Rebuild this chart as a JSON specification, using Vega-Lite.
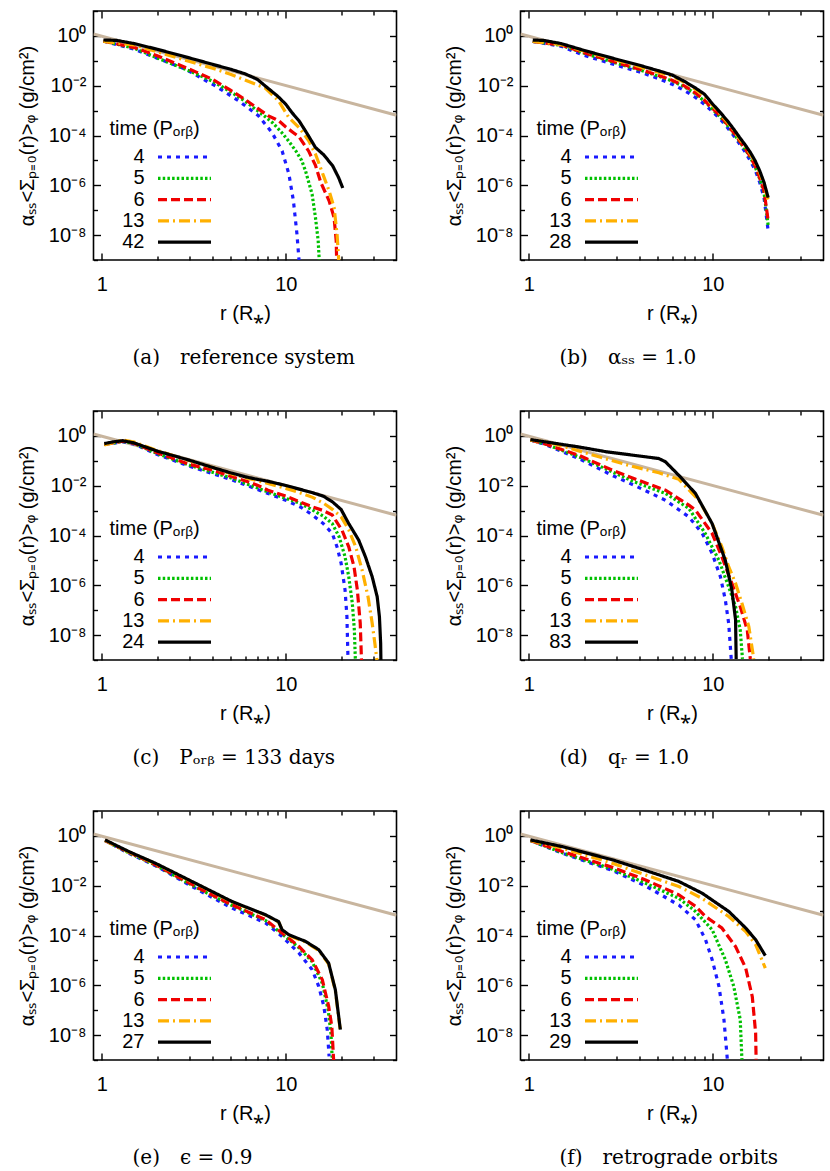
{
"$schema":"https://vega.github.io/schema/vega-lite/v6.json",
"padding":{"left":16.5,"top":0,"right":0,"bottom":0},
"bounds":"flush",
"columns":2,
"spacing":{"row":151,"column":124},
"data":{"values":[
{"p":"a","t":"4","r":1.02,"s":0.62},{"p":"a","t":"4","r":1.5,"s":0.29},{"p":"a","t":"4","r":2,"s":0.126},{"p":"a","t":"4","r":2.85,"s":0.046},{"p":"a","t":"4","r":4.14,"s":0.0098},{"p":"a","t":"4","r":5.55,"s":0.00245},{"p":"a","t":"4","r":7.1,"s":0.00062},{"p":"a","t":"4","r":8.42,"s":0.00013},{"p":"a","t":"4","r":9.55,"s":2.4e-5},{"p":"a","t":"4","r":10.4,"s":2.8e-6},{"p":"a","t":"4","r":11.0,"s":2.4e-7},{"p":"a","t":"4","r":11.5,"s":1.1e-8},{"p":"a","t":"4","r":11.8,"s":1e-9},
{"p":"a","t":"5","r":1.02,"s":0.62},{"p":"a","t":"5","r":1.5,"s":0.32},{"p":"a","t":"5","r":2,"s":0.13},{"p":"a","t":"5","r":3,"s":0.039},{"p":"a","t":"5","r":4,"s":0.015},{"p":"a","t":"5","r":5.11,"s":0.0052},{"p":"a","t":"5","r":6,"s":0.0024},{"p":"a","t":"5","r":7,"s":0.001},{"p":"a","t":"5","r":7.76,"s":0.00056},{"p":"a","t":"5","r":8.5,"s":0.00032},{"p":"a","t":"5","r":9.55,"s":0.000126},{"p":"a","t":"5","r":10.3,"s":6.3e-5},{"p":"a","t":"5","r":11.3,"s":2.5e-5},{"p":"a","t":"5","r":12.2,"s":1e-5},{"p":"a","t":"5","r":12.8,"s":3.8e-6},{"p":"a","t":"5","r":13.9,"s":4.4e-7},{"p":"a","t":"5","r":14.5,"s":5.1e-8},{"p":"a","t":"5","r":15.0,"s":5.9e-9},{"p":"a","t":"5","r":15.2,"s":1e-9},
{"p":"a","t":"6","r":1.02,"s":0.62},{"p":"a","t":"6","r":1.5,"s":0.34},{"p":"a","t":"6","r":2,"s":0.16},{"p":"a","t":"6","r":3,"s":0.046},{"p":"a","t":"6","r":4,"s":0.018},{"p":"a","t":"6","r":5,"s":0.0066},{"p":"a","t":"6","r":6,"s":0.0028},{"p":"a","t":"6","r":7,"s":0.00126},{"p":"a","t":"6","r":8,"s":0.00063},{"p":"a","t":"6","r":8.8,"s":0.00045},{"p":"a","t":"6","r":9.2,"s":0.00038},{"p":"a","t":"6","r":10,"s":0.00022},{"p":"a","t":"6","r":11,"s":0.00013},{"p":"a","t":"6","r":11.8,"s":8.9e-5},{"p":"a","t":"6","r":13.3,"s":2.4e-5},{"p":"a","t":"6","r":14.5,"s":6.3e-6},{"p":"a","t":"6","r":15.5,"s":1.3e-6},{"p":"a","t":"6","r":17.2,"s":2.4e-7},{"p":"a","t":"6","r":18.3,"s":5.1e-8},{"p":"a","t":"6","r":18.8,"s":5.9e-9},{"p":"a","t":"6","r":18.9,"s":1e-9},
{"p":"a","t":"13","r":1.02,"s":0.6},{"p":"a","t":"13","r":1.5,"s":0.43},{"p":"a","t":"13","r":2,"s":0.23},{"p":"a","t":"13","r":3,"s":0.093},{"p":"a","t":"13","r":4,"s":0.05},{"p":"a","t":"13","r":5,"s":0.029},{"p":"a","t":"13","r":6,"s":0.017},{"p":"a","t":"13","r":7,"s":0.0107},{"p":"a","t":"13","r":7.76,"s":0.0079},{"p":"a","t":"13","r":9.14,"s":0.00245},{"p":"a","t":"13","r":10.4,"s":0.00052},{"p":"a","t":"13","r":11.8,"s":0.00021},{"p":"a","t":"13","r":13.3,"s":6.3e-5},{"p":"a","t":"13","r":14.5,"s":1.8e-5},{"p":"a","t":"13","r":16,"s":2.5e-6},{"p":"a","t":"13","r":17.2,"s":6e-7},{"p":"a","t":"13","r":18.3,"s":1.3e-7},{"p":"a","t":"13","r":19.0,"s":1.1e-8},{"p":"a","t":"13","r":19.4,"s":1e-9},
{"p":"a","t":"42","r":1.02,"s":0.685},{"p":"a","t":"42","r":1.2,"s":0.66},{"p":"a","t":"42","r":1.5,"s":0.49},{"p":"a","t":"42","r":2,"s":0.29},{"p":"a","t":"42","r":3,"s":0.13},{"p":"a","t":"42","r":4,"s":0.072},{"p":"a","t":"42","r":5,"s":0.046},{"p":"a","t":"42","r":6,"s":0.03},{"p":"a","t":"42","r":7,"s":0.018},{"p":"a","t":"42","r":8,"s":0.0079},{"p":"a","t":"42","r":9,"s":0.0039},{"p":"a","t":"42","r":10,"s":0.0018},{"p":"a","t":"42","r":10.8,"s":0.00083},{"p":"a","t":"42","r":11.8,"s":0.00039},{"p":"a","t":"42","r":13,"s":0.000126},{"p":"a","t":"42","r":14.5,"s":3.3e-5},{"p":"a","t":"42","r":16.1,"s":1.66e-5},{"p":"a","t":"42","r":18,"s":6e-6},{"p":"a","t":"42","r":19.4,"s":2e-6},{"p":"a","t":"42","r":20.4,"s":7.8e-7},

{"p":"b","t":"4","r":1.05,"s":0.6},{"p":"b","t":"4","r":1.5,"s":0.38},{"p":"b","t":"4","r":2,"s":0.166},{"p":"b","t":"4","r":3,"s":0.066},{"p":"b","t":"4","r":4,"s":0.0355},{"p":"b","t":"4","r":5,"s":0.02},{"p":"b","t":"4","r":6,"s":0.0115},{"p":"b","t":"4","r":7,"s":0.0065},{"p":"b","t":"4","r":8,"s":0.0035},{"p":"b","t":"4","r":9,"s":0.0018},{"p":"b","t":"4","r":10,"s":0.00089},{"p":"b","t":"4","r":11,"s":0.00045},{"p":"b","t":"4","r":12,"s":0.00021},{"p":"b","t":"4","r":13,"s":9.8e-5},{"p":"b","t":"4","r":14,"s":4.5e-5},{"p":"b","t":"4","r":15,"s":2.2e-5},{"p":"b","t":"4","r":16,"s":9.5e-6},{"p":"b","t":"4","r":17,"s":4.1e-6},{"p":"b","t":"4","r":18,"s":1.3e-6},{"p":"b","t":"4","r":19,"s":3.2e-7},{"p":"b","t":"4","r":20,"s":1.5e-8},
{"p":"b","t":"5","r":1.05,"s":0.6},{"p":"b","t":"5","r":1.5,"s":0.42},{"p":"b","t":"5","r":2,"s":0.2},{"p":"b","t":"5","r":3,"s":0.08},{"p":"b","t":"5","r":4,"s":0.043},{"p":"b","t":"5","r":5,"s":0.025},{"p":"b","t":"5","r":6,"s":0.0155},{"p":"b","t":"5","r":7,"s":0.0091},{"p":"b","t":"5","r":8,"s":0.0049},{"p":"b","t":"5","r":9,"s":0.0024},{"p":"b","t":"5","r":10,"s":0.0011},{"p":"b","t":"5","r":11,"s":0.00055},{"p":"b","t":"5","r":12,"s":0.00026},{"p":"b","t":"5","r":13,"s":0.00012},{"p":"b","t":"5","r":14,"s":5.5e-5},{"p":"b","t":"5","r":15,"s":2.8e-5},{"p":"b","t":"5","r":16,"s":1.3e-5},{"p":"b","t":"5","r":17,"s":5.5e-6},{"p":"b","t":"5","r":18,"s":1.8e-6},{"p":"b","t":"5","r":19,"s":5e-7},{"p":"b","t":"5","r":20,"s":2.5e-8},
{"p":"b","t":"6","r":1.05,"s":0.6},{"p":"b","t":"6","r":1.5,"s":0.43},{"p":"b","t":"6","r":2,"s":0.21},{"p":"b","t":"6","r":3,"s":0.085},{"p":"b","t":"6","r":4,"s":0.046},{"p":"b","t":"6","r":5,"s":0.027},{"p":"b","t":"6","r":6,"s":0.0166},{"p":"b","t":"6","r":7,"s":0.0098},{"p":"b","t":"6","r":8,"s":0.0053},{"p":"b","t":"6","r":9,"s":0.0026},{"p":"b","t":"6","r":10,"s":0.0012},{"p":"b","t":"6","r":11,"s":0.00061},{"p":"b","t":"6","r":12,"s":0.00028},{"p":"b","t":"6","r":13,"s":0.00013},{"p":"b","t":"6","r":14,"s":6e-5},{"p":"b","t":"6","r":15,"s":3e-5},{"p":"b","t":"6","r":16,"s":1.4e-5},{"p":"b","t":"6","r":17,"s":6e-6},{"p":"b","t":"6","r":18,"s":2e-6},{"p":"b","t":"6","r":19,"s":6e-7},{"p":"b","t":"6","r":20,"s":3.8e-8},
{"p":"b","t":"13","r":1.05,"s":0.6},{"p":"b","t":"13","r":1.5,"s":0.45},{"p":"b","t":"13","r":2,"s":0.245},{"p":"b","t":"13","r":3,"s":0.105},{"p":"b","t":"13","r":4,"s":0.058},{"p":"b","t":"13","r":5,"s":0.036},{"p":"b","t":"13","r":6,"s":0.024},{"p":"b","t":"13","r":7,"s":0.0138},{"p":"b","t":"13","r":8,"s":0.0074},{"p":"b","t":"13","r":9,"s":0.0039},{"p":"b","t":"13","r":10,"s":0.0016},{"p":"b","t":"13","r":11,"s":0.00072},{"p":"b","t":"13","r":12,"s":0.00034},{"p":"b","t":"13","r":13,"s":0.00016},{"p":"b","t":"13","r":14,"s":7.2e-5},{"p":"b","t":"13","r":15,"s":3.7e-5},{"p":"b","t":"13","r":16,"s":1.8e-5},{"p":"b","t":"13","r":17,"s":8.3e-6},{"p":"b","t":"13","r":18,"s":3.2e-6},{"p":"b","t":"13","r":19,"s":1.1e-6},{"p":"b","t":"13","r":20,"s":2.5e-7},
{"p":"b","t":"28","r":1.05,"s":0.68},{"p":"b","t":"28","r":1.2,"s":0.66},{"p":"b","t":"28","r":1.5,"s":0.49},{"p":"b","t":"28","r":2,"s":0.26},{"p":"b","t":"28","r":3,"s":0.115},{"p":"b","t":"28","r":4,"s":0.066},{"p":"b","t":"28","r":5,"s":0.041},{"p":"b","t":"28","r":6,"s":0.027},{"p":"b","t":"28","r":7,"s":0.015},{"p":"b","t":"28","r":8,"s":0.0083},{"p":"b","t":"28","r":9,"s":0.0046},{"p":"b","t":"28","r":10,"s":0.0018},{"p":"b","t":"28","r":11,"s":0.00083},{"p":"b","t":"28","r":12,"s":0.00039},{"p":"b","t":"28","r":13,"s":0.00018},{"p":"b","t":"28","r":14,"s":8.3e-5},{"p":"b","t":"28","r":15,"s":4.2e-5},{"p":"b","t":"28","r":16,"s":2.1e-5},{"p":"b","t":"28","r":17,"s":9.6e-6},{"p":"b","t":"28","r":18,"s":3.8e-6},{"p":"b","t":"28","r":19,"s":1.3e-6},{"p":"b","t":"28","r":20,"s":3.2e-7},

{"p":"c","t":"4","r":1.03,"s":0.45},{"p":"c","t":"4","r":1.3,"s":0.58},{"p":"c","t":"4","r":1.5,"s":0.47},{"p":"c","t":"4","r":2,"s":0.18},{"p":"c","t":"4","r":3,"s":0.06},{"p":"c","t":"4","r":5,"s":0.018},{"p":"c","t":"4","r":8,"s":0.0049},{"p":"c","t":"4","r":10,"s":0.0026},{"p":"c","t":"4","r":12,"s":0.0014},{"p":"c","t":"4","r":14,"s":0.00066},{"p":"c","t":"4","r":16,"s":0.0003},{"p":"c","t":"4","r":17.9,"s":0.00012},{"p":"c","t":"4","r":19,"s":3.5e-5},{"p":"c","t":"4","r":20,"s":7.6e-6},{"p":"c","t":"4","r":21,"s":6.5e-7},{"p":"c","t":"4","r":21.5,"s":5.5e-8},{"p":"c","t":"4","r":21.8,"s":1e-9},
{"p":"c","t":"5","r":1.03,"s":0.45},{"p":"c","t":"5","r":1.3,"s":0.6},{"p":"c","t":"5","r":1.5,"s":0.49},{"p":"c","t":"5","r":2,"s":0.195},{"p":"c","t":"5","r":3,"s":0.066},{"p":"c","t":"5","r":5,"s":0.021},{"p":"c","t":"5","r":8,"s":0.0056},{"p":"c","t":"5","r":10,"s":0.0031},{"p":"c","t":"5","r":12,"s":0.00195},{"p":"c","t":"5","r":14,"s":0.00105},{"p":"c","t":"5","r":16,"s":0.0006},{"p":"c","t":"5","r":17.9,"s":0.0003},{"p":"c","t":"5","r":19.5,"s":8.9e-5},{"p":"c","t":"5","r":21,"s":1.4e-5},{"p":"c","t":"5","r":22,"s":2.2e-6},{"p":"c","t":"5","r":23,"s":1.9e-7},{"p":"c","t":"5","r":23.6,"s":1.6e-8},{"p":"c","t":"5","r":23.9,"s":1e-9},
{"p":"c","t":"6","r":1.03,"s":0.45},{"p":"c","t":"6","r":1.3,"s":0.62},{"p":"c","t":"6","r":1.5,"s":0.5},{"p":"c","t":"6","r":2,"s":0.21},{"p":"c","t":"6","r":3,"s":0.072},{"p":"c","t":"6","r":4,"s":0.042},{"p":"c","t":"6","r":5,"s":0.024},{"p":"c","t":"6","r":6,"s":0.0158},{"p":"c","t":"6","r":7,"s":0.0105},{"p":"c","t":"6","r":8,"s":0.0066},{"p":"c","t":"6","r":10,"s":0.0038},{"p":"c","t":"6","r":12,"s":0.0022},{"p":"c","t":"6","r":14,"s":0.0014},{"p":"c","t":"6","r":16,"s":0.001},{"p":"c","t":"6","r":17.9,"s":0.00066},{"p":"c","t":"6","r":20.2,"s":0.000166},{"p":"c","t":"6","r":22,"s":3.5e-5},{"p":"c","t":"6","r":23.5,"s":5.6e-6},{"p":"c","t":"6","r":24.5,"s":6.5e-7},{"p":"c","t":"6","r":25.4,"s":3e-8},{"p":"c","t":"6","r":25.8,"s":1e-9},
{"p":"c","t":"13","r":1.03,"s":0.43},{"p":"c","t":"13","r":1.3,"s":0.68},{"p":"c","t":"13","r":1.5,"s":0.56},{"p":"c","t":"13","r":2,"s":0.26},{"p":"c","t":"13","r":3,"s":0.1},{"p":"c","t":"13","r":4,"s":0.054},{"p":"c","t":"13","r":5,"s":0.031},{"p":"c","t":"13","r":6,"s":0.021},{"p":"c","t":"13","r":7,"s":0.016},{"p":"c","t":"13","r":8,"s":0.0123},{"p":"c","t":"13","r":10,"s":0.0078},{"p":"c","t":"13","r":12,"s":0.0051},{"p":"c","t":"13","r":14,"s":0.0034},{"p":"c","t":"13","r":16,"s":0.002},{"p":"c","t":"13","r":18,"s":0.0011},{"p":"c","t":"13","r":20,"s":0.00056},{"p":"c","t":"13","r":22,"s":0.00017},{"p":"c","t":"13","r":24,"s":3.5e-5},{"p":"c","t":"13","r":26,"s":4.1e-6},{"p":"c","t":"13","r":28,"s":3.5e-7},{"p":"c","t":"13","r":29.5,"s":3e-8},{"p":"c","t":"13","r":30.5,"s":4.7e-9},{"p":"c","t":"13","r":31.3,"s":1e-9},
{"p":"c","t":"24","r":1.03,"s":0.49},{"p":"c","t":"24","r":1.15,"s":0.575},{"p":"c","t":"24","r":1.3,"s":0.64},{"p":"c","t":"24","r":1.5,"s":0.52},{"p":"c","t":"24","r":2,"s":0.245},{"p":"c","t":"24","r":3,"s":0.105},{"p":"c","t":"24","r":4,"s":0.054},{"p":"c","t":"24","r":5,"s":0.033},{"p":"c","t":"24","r":6,"s":0.023},{"p":"c","t":"24","r":7,"s":0.018},{"p":"c","t":"24","r":8,"s":0.015},{"p":"c","t":"24","r":10,"s":0.0102},{"p":"c","t":"24","r":12,"s":0.0071},{"p":"c","t":"24","r":14,"s":0.0052},{"p":"c","t":"24","r":16,"s":0.0038},{"p":"c","t":"24","r":18,"s":0.0022},{"p":"c","t":"24","r":20,"s":0.0011},{"p":"c","t":"24","r":22,"s":0.0003},{"p":"c","t":"24","r":24.9,"s":6.6e-5},{"p":"c","t":"24","r":27.1,"s":1.4e-5},{"p":"c","t":"24","r":29.5,"s":2.2e-6},{"p":"c","t":"24","r":31.4,"s":3.5e-7},{"p":"c","t":"24","r":32.3,"s":5.5e-8},{"p":"c","t":"24","r":32.8,"s":4.7e-9},{"p":"c","t":"24","r":32.9,"s":1e-9},

{"p":"d","t":"4","r":1.02,"s":0.68},{"p":"d","t":"4","r":1.23,"s":0.45},{"p":"d","t":"4","r":1.87,"s":0.123},{"p":"d","t":"4","r":2.84,"s":0.026},{"p":"d","t":"4","r":3.72,"s":0.0105},{"p":"d","t":"4","r":5.53,"s":0.0026},{"p":"d","t":"4","r":7.41,"s":0.00056},{"p":"d","t":"4","r":8.77,"s":0.00012},{"p":"d","t":"4","r":9.92,"s":1.9e-5},{"p":"d","t":"4","r":11.0,"s":2.2e-6},{"p":"d","t":"4","r":11.7,"s":2.6e-7},{"p":"d","t":"4","r":12.2,"s":2.95e-8},{"p":"d","t":"4","r":12.6,"s":1.1e-9},
{"p":"d","t":"5","r":1.02,"s":0.68},{"p":"d","t":"5","r":1.23,"s":0.47},{"p":"d","t":"5","r":1.87,"s":0.145},{"p":"d","t":"5","r":2.84,"s":0.036},{"p":"d","t":"5","r":3.72,"s":0.0145},{"p":"d","t":"5","r":5.53,"s":0.0049},{"p":"d","t":"5","r":7.41,"s":0.00123},{"p":"d","t":"5","r":9.1,"s":0.00012},{"p":"d","t":"5","r":10.8,"s":1e-5},{"p":"d","t":"5","r":12.2,"s":8.7e-7},{"p":"d","t":"5","r":13.3,"s":1.4e-7},{"p":"d","t":"5","r":14.1,"s":1.6e-8},{"p":"d","t":"5","r":14.5,"s":1.1e-9},
{"p":"d","t":"6","r":1.02,"s":0.68},{"p":"d","t":"6","r":1.23,"s":0.47},{"p":"d","t":"6","r":1.87,"s":0.166},{"p":"d","t":"6","r":2.84,"s":0.042},{"p":"d","t":"6","r":3.72,"s":0.0195},{"p":"d","t":"6","r":5.53,"s":0.0066},{"p":"d","t":"6","r":7.41,"s":0.00166},{"p":"d","t":"6","r":8.05,"s":0.00105},{"p":"d","t":"6","r":9.92,"s":0.00012},{"p":"d","t":"6","r":11.2,"s":1.4e-5},{"p":"d","t":"6","r":12.7,"s":1.2e-6},{"p":"d","t":"6","r":14.1,"s":1.4e-7},{"p":"d","t":"6","r":15.4,"s":1.6e-8},{"p":"d","t":"6","r":16.0,"s":1.1e-9},
{"p":"d","t":"13","r":1.02,"s":0.68},{"p":"d","t":"13","r":1.23,"s":0.58},{"p":"d","t":"13","r":1.52,"s":0.39},{"p":"d","t":"13","r":2.4,"s":0.145},{"p":"d","t":"13","r":3.64,"s":0.06},{"p":"d","t":"13","r":5.09,"s":0.033},{"p":"d","t":"13","r":6.54,"s":0.018},{"p":"d","t":"13","r":8.4,"s":0.0026},{"p":"d","t":"13","r":9.92,"s":0.0003},{"p":"d","t":"13","r":11.2,"s":3.5e-5},{"p":"d","t":"13","r":12.2,"s":5.6e-6},{"p":"d","t":"13","r":13.3,"s":1.2e-6},{"p":"d","t":"13","r":14.4,"s":1.9e-7},{"p":"d","t":"13","r":15.7,"s":2.2e-8},{"p":"d","t":"13","r":16.7,"s":1.1e-9},
{"p":"d","t":"83","r":1.02,"s":0.71},{"p":"d","t":"83","r":1.23,"s":0.575},{"p":"d","t":"83","r":1.87,"s":0.36},{"p":"d","t":"83","r":2.64,"s":0.23},{"p":"d","t":"83","r":4.31,"s":0.145},{"p":"d","t":"83","r":5.09,"s":0.123},{"p":"d","t":"83","r":5.53,"s":0.091},{"p":"d","t":"83","r":6.54,"s":0.026},{"p":"d","t":"83","r":8.05,"s":0.0049},{"p":"d","t":"83","r":9.92,"s":0.0003},{"p":"d","t":"83","r":11.7,"s":1e-5},{"p":"d","t":"83","r":12.7,"s":6.5e-7},{"p":"d","t":"83","r":13.3,"s":4.1e-8},{"p":"d","t":"83","r":13.4,"s":1.1e-9},

{"p":"e","t":"4","r":1.04,"s":0.65},{"p":"e","t":"4","r":1.4,"s":0.2},{"p":"e","t":"4","r":1.96,"s":0.063},{"p":"e","t":"4","r":3.37,"s":0.0065},{"p":"e","t":"4","r":5.11,"s":0.00126},{"p":"e","t":"4","r":7.76,"s":0.00032},{"p":"e","t":"4","r":9.55,"s":9.1e-5},{"p":"e","t":"4","r":11.8,"s":1.95e-5},{"p":"e","t":"4","r":13.9,"s":4.3e-6},{"p":"e","t":"4","r":15.1,"s":9.1e-7},{"p":"e","t":"4","r":16.1,"s":1.45e-7},{"p":"e","t":"4","r":16.8,"s":1.66e-8},{"p":"e","t":"4","r":17.2,"s":1.4e-9},
{"p":"e","t":"5","r":1.04,"s":0.65},{"p":"e","t":"5","r":1.4,"s":0.21},{"p":"e","t":"5","r":1.96,"s":0.066},{"p":"e","t":"5","r":3.37,"s":0.0074},{"p":"e","t":"5","r":5.11,"s":0.0016},{"p":"e","t":"5","r":7.76,"s":0.0004},{"p":"e","t":"5","r":9.55,"s":0.000115},{"p":"e","t":"5","r":11.8,"s":3.2e-5},{"p":"e","t":"5","r":13.9,"s":9e-6},{"p":"e","t":"5","r":15.8,"s":1.2e-6},{"p":"e","t":"5","r":17.0,"s":1e-7},{"p":"e","t":"5","r":17.6,"s":1.2e-8},{"p":"e","t":"5","r":17.9,"s":1e-9},
{"p":"e","t":"6","r":1.04,"s":0.65},{"p":"e","t":"6","r":1.4,"s":0.22},{"p":"e","t":"6","r":1.96,"s":0.069},{"p":"e","t":"6","r":3.37,"s":0.0079},{"p":"e","t":"6","r":5.11,"s":0.0017},{"p":"e","t":"6","r":7.76,"s":0.00043},{"p":"e","t":"6","r":9.55,"s":0.000126},{"p":"e","t":"6","r":11.8,"s":3.6e-5},{"p":"e","t":"6","r":13.9,"s":1.07e-5},{"p":"e","t":"6","r":15.8,"s":1.66e-6},{"p":"e","t":"6","r":17.1,"s":1.45e-7},{"p":"e","t":"6","r":17.8,"s":2.2e-8},{"p":"e","t":"6","r":18.2,"s":1e-9},
{"p":"e","t":"13","r":1.04,"s":0.66},{"p":"e","t":"13","r":1.4,"s":0.225},{"p":"e","t":"13","r":1.96,"s":0.076},{"p":"e","t":"13","r":3.37,"s":0.0104},{"p":"e","t":"13","r":5.11,"s":0.0022},{"p":"e","t":"13","r":7.76,"s":0.00066},{"p":"e","t":"13","r":9.14,"s":0.00035},{"p":"e","t":"13","r":9.55,"s":0.00016},{"p":"e","t":"13","r":10.4,"s":0.0001},{"p":"e","t":"13","r":12.8,"s":5.5e-5},{"p":"e","t":"13","r":15.1,"s":2.5e-5},{"p":"e","t":"13","r":17.1,"s":7.2e-6},{"p":"e","t":"13","r":18.6,"s":6e-7},{"p":"e","t":"13","r":19.8,"s":1.5e-8},
{"p":"e","t":"27","r":1.04,"s":0.69},{"p":"e","t":"27","r":1.4,"s":0.235},{"p":"e","t":"27","r":1.96,"s":0.079},{"p":"e","t":"27","r":3.37,"s":0.0107},{"p":"e","t":"27","r":5.11,"s":0.0023},{"p":"e","t":"27","r":7.76,"s":0.00068},{"p":"e","t":"27","r":9.14,"s":0.00036},{"p":"e","t":"27","r":9.55,"s":0.00017},{"p":"e","t":"27","r":10.4,"s":0.000107},{"p":"e","t":"27","r":12.8,"s":5.8e-5},{"p":"e","t":"27","r":15.1,"s":2.7e-5},{"p":"e","t":"27","r":17.1,"s":7.8e-6},{"p":"e","t":"27","r":18.6,"s":6.6e-7},{"p":"e","t":"27","r":19.8,"s":1.66e-8},

{"p":"f","t":"4","r":1.02,"s":0.65},{"p":"f","t":"4","r":1.52,"s":0.2},{"p":"f","t":"4","r":2.84,"s":0.041},{"p":"f","t":"4","r":4.31,"s":0.0098},{"p":"f","t":"4","r":6.54,"s":0.00166},{"p":"f","t":"4","r":8.05,"s":0.00043},{"p":"f","t":"4","r":9.13,"s":6.8e-5},{"p":"f","t":"4","r":9.92,"s":1.07e-5},{"p":"f","t":"4","r":10.8,"s":9.1e-7},{"p":"f","t":"4","r":11.5,"s":4.2e-8},{"p":"f","t":"4","r":12.0,"s":1.05e-9},
{"p":"f","t":"5","r":1.02,"s":0.65},{"p":"f","t":"5","r":1.52,"s":0.21},{"p":"f","t":"5","r":2.84,"s":0.046},{"p":"f","t":"5","r":4.31,"s":0.0126},{"p":"f","t":"5","r":6.54,"s":0.0031},{"p":"f","t":"5","r":8.05,"s":0.00093},{"p":"f","t":"5","r":9.92,"s":0.00017},{"p":"f","t":"5","r":11.7,"s":1.07e-5},{"p":"f","t":"5","r":13.0,"s":9.1e-7},{"p":"f","t":"5","r":14.1,"s":4.2e-8},{"p":"f","t":"5","r":14.4,"s":1.05e-9},
{"p":"f","t":"6","r":1.02,"s":0.65},{"p":"f","t":"6","r":1.52,"s":0.235},{"p":"f","t":"6","r":2.84,"s":0.055},{"p":"f","t":"6","r":4.31,"s":0.017},{"p":"f","t":"6","r":6.54,"s":0.0043},{"p":"f","t":"6","r":8.05,"s":0.0015},{"p":"f","t":"6","r":9.13,"s":0.00058},{"p":"f","t":"6","r":11.2,"s":0.0002},{"p":"f","t":"6","r":13.3,"s":3.6e-5},{"p":"f","t":"6","r":15.1,"s":4.9e-6},{"p":"f","t":"6","r":16.4,"s":3.5e-7},{"p":"f","t":"6","r":17.1,"s":1.2e-8},{"p":"f","t":"6","r":17.2,"s":1.05e-9},
{"p":"f","t":"13","r":1.02,"s":0.65},{"p":"f","t":"13","r":1.52,"s":0.32},{"p":"f","t":"13","r":2.84,"s":0.08},{"p":"f","t":"13","r":4.31,"s":0.027},{"p":"f","t":"13","r":6.54,"s":0.0093},{"p":"f","t":"13","r":8.75,"s":0.0031},{"p":"f","t":"13","r":12.2,"s":0.00058},{"p":"f","t":"13","r":15.1,"s":0.000145},{"p":"f","t":"13","r":17.1,"s":4.3e-5},{"p":"f","t":"13","r":19.3,"s":4.9e-6},
{"p":"f","t":"29","r":1.02,"s":0.69},{"p":"f","t":"29","r":1.52,"s":0.37},{"p":"f","t":"29","r":2.84,"s":0.11},{"p":"f","t":"29","r":4.31,"s":0.041},{"p":"f","t":"29","r":6.54,"s":0.0148},{"p":"f","t":"29","r":8.75,"s":0.005},{"p":"f","t":"29","r":12.2,"s":0.00093},{"p":"f","t":"29","r":15.1,"s":0.0002},{"p":"f","t":"29","r":17.1,"s":6.8e-5},{"p":"f","t":"29","r":19.3,"s":1.55e-5}
]},
"resolve":{"scale":{"color":"independent","strokeDash":"independent"},"legend":{"color":"independent","strokeDash":"independent"}},
"concat":[
{"width":303,"height":249,
 "title":{"text":"(a)\u2003reference system"},
 "layer":[
  {"data":{"values":[{"r":0.9,"s":1.2},{"r":40,"s":0.00065}]},
   "mark":{"type":"line","color":"#c8b59e","strokeWidth":3,"clip":true},
   "encoding":{
    "x":{"field":"r","type":"quantitative","scale":{"type":"log","domain":[0.9,40],"nice":false},"axis":{"orient":"top","values":[1,2,3,4,5,6,7,8,9,10,20,30],"labels":false,"title":null,"tickSize":{"condition":{"test":"datum.value==1||datum.value==10","value":-7},"value":-4}}},
    "y":{"field":"s","type":"quantitative","scale":{"type":"log","domain":[1e-9,10],"nice":false},"axis":{"orient":"right","values":[1e-9,1e-8,1e-7,1e-6,1e-5,1e-4,1e-3,1e-2,1e-1,1,10],"labels":false,"title":null,"tickSize":{"condition":{"test":"round(log(datum.value)/LN10)%2==0","value":-7},"value":-4}}}}},
  {"transform":[{"filter":"datum.p=='a'"}],
   "mark":{"type":"line","strokeWidth":3.2,"clip":true},
   "encoding":{
    "x":{"field":"r","type":"quantitative","scale":{"type":"log","domain":[0.9,40],"nice":false},"axis":{"orient":"bottom","values":[1,2,3,4,5,6,7,8,9,10,20,30],"labelExpr":"datum.value==1||datum.value==10 ? datum.label : ''","tickSize":{"condition":{"test":"datum.value==1||datum.value==10","value":-7},"value":-4},"title":"r (R⁎)"}},
    "y":{"field":"s","type":"quantitative","scale":{"type":"log","domain":[1e-9,10],"nice":false},"axis":{"orient":"left","values":[1e-9,1e-8,1e-7,1e-6,1e-5,1e-4,1e-3,1e-2,1e-1,1,10],"labelExpr":"round(log(datum.value)/LN10)==0 ? '10⁰' : round(log(datum.value)/LN10)==-2 ? '10⁻²' : round(log(datum.value)/LN10)==-4 ? '10⁻⁴' : round(log(datum.value)/LN10)==-6 ? '10⁻⁶' : round(log(datum.value)/LN10)==-8 ? '10⁻⁸' : ''","tickSize":{"condition":{"test":"round(log(datum.value)/LN10)%2==0","value":-7},"value":-4},"title":"αₛₛ<Σₚ₌₀(r)>ᵩ (g/cm²)"}},
    "color":{"field":"t","type":"nominal","scale":{"domain":["4","5","6","13","42"],"range":["#1a1aff","#00c000","#f00000","#ffb000","#000000"]},"legend":{"title":"time (Pₒᵣᵦ)"}},
    "strokeDash":{"field":"t","type":"nominal","scale":{"domain":["4","5","6","13","42"],"range":[[4,5],[2.5,2.2],[9,4],[11,4,2,4],[1,0]]},"legend":{"title":"time (Pₒᵣᵦ)"}}}}
 ],
 "resolve":{"axis":{"x":"independent","y":"independent"}}},
{"width":303,"height":249,
 "title":{"text":"(b)\u2003αₛₛ = 1.0"},
 "layer":[
  {"data":{"values":[{"r":0.9,"s":1.2},{"r":40,"s":0.00065}]},
   "mark":{"type":"line","color":"#c8b59e","strokeWidth":3,"clip":true},
   "encoding":{
    "x":{"field":"r","type":"quantitative","scale":{"type":"log","domain":[0.9,40],"nice":false},"axis":{"orient":"top","values":[1,2,3,4,5,6,7,8,9,10,20,30],"labels":false,"title":null,"tickSize":{"condition":{"test":"datum.value==1||datum.value==10","value":-7},"value":-4}}},
    "y":{"field":"s","type":"quantitative","scale":{"type":"log","domain":[1e-9,10],"nice":false},"axis":{"orient":"right","values":[1e-9,1e-8,1e-7,1e-6,1e-5,1e-4,1e-3,1e-2,1e-1,1,10],"labels":false,"title":null,"tickSize":{"condition":{"test":"round(log(datum.value)/LN10)%2==0","value":-7},"value":-4}}}}},
  {"transform":[{"filter":"datum.p=='b'"}],
   "mark":{"type":"line","strokeWidth":3.2,"clip":true},
   "encoding":{
    "x":{"field":"r","type":"quantitative","scale":{"type":"log","domain":[0.9,40],"nice":false},"axis":{"orient":"bottom","values":[1,2,3,4,5,6,7,8,9,10,20,30],"labelExpr":"datum.value==1||datum.value==10 ? datum.label : ''","tickSize":{"condition":{"test":"datum.value==1||datum.value==10","value":-7},"value":-4},"title":"r (R⁎)"}},
    "y":{"field":"s","type":"quantitative","scale":{"type":"log","domain":[1e-9,10],"nice":false},"axis":{"orient":"left","values":[1e-9,1e-8,1e-7,1e-6,1e-5,1e-4,1e-3,1e-2,1e-1,1,10],"labelExpr":"round(log(datum.value)/LN10)==0 ? '10⁰' : round(log(datum.value)/LN10)==-2 ? '10⁻²' : round(log(datum.value)/LN10)==-4 ? '10⁻⁴' : round(log(datum.value)/LN10)==-6 ? '10⁻⁶' : round(log(datum.value)/LN10)==-8 ? '10⁻⁸' : ''","tickSize":{"condition":{"test":"round(log(datum.value)/LN10)%2==0","value":-7},"value":-4},"title":"αₛₛ<Σₚ₌₀(r)>ᵩ (g/cm²)"}},
    "color":{"field":"t","type":"nominal","scale":{"domain":["4","5","6","13","28"],"range":["#1a1aff","#00c000","#f00000","#ffb000","#000000"]},"legend":{"title":"time (Pₒᵣᵦ)"}},
    "strokeDash":{"field":"t","type":"nominal","scale":{"domain":["4","5","6","13","28"],"range":[[4,5],[2.5,2.2],[9,4],[11,4,2,4],[1,0]]},"legend":{"title":"time (Pₒᵣᵦ)"}}}}
 ],
 "resolve":{"axis":{"x":"independent","y":"independent"}}},
{"width":303,"height":249,
 "title":{"text":"(c)\u2003Pₒᵣᵦ = 133 days"},
 "layer":[
  {"data":{"values":[{"r":0.9,"s":1.2},{"r":40,"s":0.00065}]},
   "mark":{"type":"line","color":"#c8b59e","strokeWidth":3,"clip":true},
   "encoding":{
    "x":{"field":"r","type":"quantitative","scale":{"type":"log","domain":[0.9,40],"nice":false},"axis":{"orient":"top","values":[1,2,3,4,5,6,7,8,9,10,20,30],"labels":false,"title":null,"tickSize":{"condition":{"test":"datum.value==1||datum.value==10","value":-7},"value":-4}}},
    "y":{"field":"s","type":"quantitative","scale":{"type":"log","domain":[1e-9,10],"nice":false},"axis":{"orient":"right","values":[1e-9,1e-8,1e-7,1e-6,1e-5,1e-4,1e-3,1e-2,1e-1,1,10],"labels":false,"title":null,"tickSize":{"condition":{"test":"round(log(datum.value)/LN10)%2==0","value":-7},"value":-4}}}}},
  {"transform":[{"filter":"datum.p=='c'"}],
   "mark":{"type":"line","strokeWidth":3.2,"clip":true},
   "encoding":{
    "x":{"field":"r","type":"quantitative","scale":{"type":"log","domain":[0.9,40],"nice":false},"axis":{"orient":"bottom","values":[1,2,3,4,5,6,7,8,9,10,20,30],"labelExpr":"datum.value==1||datum.value==10 ? datum.label : ''","tickSize":{"condition":{"test":"datum.value==1||datum.value==10","value":-7},"value":-4},"title":"r (R⁎)"}},
    "y":{"field":"s","type":"quantitative","scale":{"type":"log","domain":[1e-9,10],"nice":false},"axis":{"orient":"left","values":[1e-9,1e-8,1e-7,1e-6,1e-5,1e-4,1e-3,1e-2,1e-1,1,10],"labelExpr":"round(log(datum.value)/LN10)==0 ? '10⁰' : round(log(datum.value)/LN10)==-2 ? '10⁻²' : round(log(datum.value)/LN10)==-4 ? '10⁻⁴' : round(log(datum.value)/LN10)==-6 ? '10⁻⁶' : round(log(datum.value)/LN10)==-8 ? '10⁻⁸' : ''","tickSize":{"condition":{"test":"round(log(datum.value)/LN10)%2==0","value":-7},"value":-4},"title":"αₛₛ<Σₚ₌₀(r)>ᵩ (g/cm²)"}},
    "color":{"field":"t","type":"nominal","scale":{"domain":["4","5","6","13","24"],"range":["#1a1aff","#00c000","#f00000","#ffb000","#000000"]},"legend":{"title":"time (Pₒᵣᵦ)"}},
    "strokeDash":{"field":"t","type":"nominal","scale":{"domain":["4","5","6","13","24"],"range":[[4,5],[2.5,2.2],[9,4],[11,4,2,4],[1,0]]},"legend":{"title":"time (Pₒᵣᵦ)"}}}}
 ],
 "resolve":{"axis":{"x":"independent","y":"independent"}}},
{"width":303,"height":249,
 "title":{"text":"(d)\u2003qᵣ = 1.0"},
 "layer":[
  {"data":{"values":[{"r":0.9,"s":1.2},{"r":40,"s":0.00065}]},
   "mark":{"type":"line","color":"#c8b59e","strokeWidth":3,"clip":true},
   "encoding":{
    "x":{"field":"r","type":"quantitative","scale":{"type":"log","domain":[0.9,40],"nice":false},"axis":{"orient":"top","values":[1,2,3,4,5,6,7,8,9,10,20,30],"labels":false,"title":null,"tickSize":{"condition":{"test":"datum.value==1||datum.value==10","value":-7},"value":-4}}},
    "y":{"field":"s","type":"quantitative","scale":{"type":"log","domain":[1e-9,10],"nice":false},"axis":{"orient":"right","values":[1e-9,1e-8,1e-7,1e-6,1e-5,1e-4,1e-3,1e-2,1e-1,1,10],"labels":false,"title":null,"tickSize":{"condition":{"test":"round(log(datum.value)/LN10)%2==0","value":-7},"value":-4}}}}},
  {"transform":[{"filter":"datum.p=='d'"}],
   "mark":{"type":"line","strokeWidth":3.2,"clip":true},
   "encoding":{
    "x":{"field":"r","type":"quantitative","scale":{"type":"log","domain":[0.9,40],"nice":false},"axis":{"orient":"bottom","values":[1,2,3,4,5,6,7,8,9,10,20,30],"labelExpr":"datum.value==1||datum.value==10 ? datum.label : ''","tickSize":{"condition":{"test":"datum.value==1||datum.value==10","value":-7},"value":-4},"title":"r (R⁎)"}},
    "y":{"field":"s","type":"quantitative","scale":{"type":"log","domain":[1e-9,10],"nice":false},"axis":{"orient":"left","values":[1e-9,1e-8,1e-7,1e-6,1e-5,1e-4,1e-3,1e-2,1e-1,1,10],"labelExpr":"round(log(datum.value)/LN10)==0 ? '10⁰' : round(log(datum.value)/LN10)==-2 ? '10⁻²' : round(log(datum.value)/LN10)==-4 ? '10⁻⁴' : round(log(datum.value)/LN10)==-6 ? '10⁻⁶' : round(log(datum.value)/LN10)==-8 ? '10⁻⁸' : ''","tickSize":{"condition":{"test":"round(log(datum.value)/LN10)%2==0","value":-7},"value":-4},"title":"αₛₛ<Σₚ₌₀(r)>ᵩ (g/cm²)"}},
    "color":{"field":"t","type":"nominal","scale":{"domain":["4","5","6","13","83"],"range":["#1a1aff","#00c000","#f00000","#ffb000","#000000"]},"legend":{"title":"time (Pₒᵣᵦ)"}},
    "strokeDash":{"field":"t","type":"nominal","scale":{"domain":["4","5","6","13","83"],"range":[[4,5],[2.5,2.2],[9,4],[11,4,2,4],[1,0]]},"legend":{"title":"time (Pₒᵣᵦ)"}}}}
 ],
 "resolve":{"axis":{"x":"independent","y":"independent"}}},
{"width":303,"height":249,
 "title":{"text":"(e)\u2003ϵ = 0.9"},
 "layer":[
  {"data":{"values":[{"r":0.9,"s":1.2},{"r":40,"s":0.00065}]},
   "mark":{"type":"line","color":"#c8b59e","strokeWidth":3,"clip":true},
   "encoding":{
    "x":{"field":"r","type":"quantitative","scale":{"type":"log","domain":[0.9,40],"nice":false},"axis":{"orient":"top","values":[1,2,3,4,5,6,7,8,9,10,20,30],"labels":false,"title":null,"tickSize":{"condition":{"test":"datum.value==1||datum.value==10","value":-7},"value":-4}}},
    "y":{"field":"s","type":"quantitative","scale":{"type":"log","domain":[1e-9,10],"nice":false},"axis":{"orient":"right","values":[1e-9,1e-8,1e-7,1e-6,1e-5,1e-4,1e-3,1e-2,1e-1,1,10],"labels":false,"title":null,"tickSize":{"condition":{"test":"round(log(datum.value)/LN10)%2==0","value":-7},"value":-4}}}}},
  {"transform":[{"filter":"datum.p=='e'"}],
   "mark":{"type":"line","strokeWidth":3.2,"clip":true},
   "encoding":{
    "x":{"field":"r","type":"quantitative","scale":{"type":"log","domain":[0.9,40],"nice":false},"axis":{"orient":"bottom","values":[1,2,3,4,5,6,7,8,9,10,20,30],"labelExpr":"datum.value==1||datum.value==10 ? datum.label : ''","tickSize":{"condition":{"test":"datum.value==1||datum.value==10","value":-7},"value":-4},"title":"r (R⁎)"}},
    "y":{"field":"s","type":"quantitative","scale":{"type":"log","domain":[1e-9,10],"nice":false},"axis":{"orient":"left","values":[1e-9,1e-8,1e-7,1e-6,1e-5,1e-4,1e-3,1e-2,1e-1,1,10],"labelExpr":"round(log(datum.value)/LN10)==0 ? '10⁰' : round(log(datum.value)/LN10)==-2 ? '10⁻²' : round(log(datum.value)/LN10)==-4 ? '10⁻⁴' : round(log(datum.value)/LN10)==-6 ? '10⁻⁶' : round(log(datum.value)/LN10)==-8 ? '10⁻⁸' : ''","tickSize":{"condition":{"test":"round(log(datum.value)/LN10)%2==0","value":-7},"value":-4},"title":"αₛₛ<Σₚ₌₀(r)>ᵩ (g/cm²)"}},
    "color":{"field":"t","type":"nominal","scale":{"domain":["4","5","6","13","27"],"range":["#1a1aff","#00c000","#f00000","#ffb000","#000000"]},"legend":{"title":"time (Pₒᵣᵦ)"}},
    "strokeDash":{"field":"t","type":"nominal","scale":{"domain":["4","5","6","13","27"],"range":[[4,5],[2.5,2.2],[9,4],[11,4,2,4],[1,0]]},"legend":{"title":"time (Pₒᵣᵦ)"}}}}
 ],
 "resolve":{"axis":{"x":"independent","y":"independent"}}},
{"width":303,"height":249,
 "title":{"text":"(f)\u2003retrograde orbits"},
 "layer":[
  {"data":{"values":[{"r":0.9,"s":1.2},{"r":40,"s":0.00065}]},
   "mark":{"type":"line","color":"#c8b59e","strokeWidth":3,"clip":true},
   "encoding":{
    "x":{"field":"r","type":"quantitative","scale":{"type":"log","domain":[0.9,40],"nice":false},"axis":{"orient":"top","values":[1,2,3,4,5,6,7,8,9,10,20,30],"labels":false,"title":null,"tickSize":{"condition":{"test":"datum.value==1||datum.value==10","value":-7},"value":-4}}},
    "y":{"field":"s","type":"quantitative","scale":{"type":"log","domain":[1e-9,10],"nice":false},"axis":{"orient":"right","values":[1e-9,1e-8,1e-7,1e-6,1e-5,1e-4,1e-3,1e-2,1e-1,1,10],"labels":false,"title":null,"tickSize":{"condition":{"test":"round(log(datum.value)/LN10)%2==0","value":-7},"value":-4}}}}},
  {"transform":[{"filter":"datum.p=='f'"}],
   "mark":{"type":"line","strokeWidth":3.2,"clip":true},
   "encoding":{
    "x":{"field":"r","type":"quantitative","scale":{"type":"log","domain":[0.9,40],"nice":false},"axis":{"orient":"bottom","values":[1,2,3,4,5,6,7,8,9,10,20,30],"labelExpr":"datum.value==1||datum.value==10 ? datum.label : ''","tickSize":{"condition":{"test":"datum.value==1||datum.value==10","value":-7},"value":-4},"title":"r (R⁎)"}},
    "y":{"field":"s","type":"quantitative","scale":{"type":"log","domain":[1e-9,10],"nice":false},"axis":{"orient":"left","values":[1e-9,1e-8,1e-7,1e-6,1e-5,1e-4,1e-3,1e-2,1e-1,1,10],"labelExpr":"round(log(datum.value)/LN10)==0 ? '10⁰' : round(log(datum.value)/LN10)==-2 ? '10⁻²' : round(log(datum.value)/LN10)==-4 ? '10⁻⁴' : round(log(datum.value)/LN10)==-6 ? '10⁻⁶' : round(log(datum.value)/LN10)==-8 ? '10⁻⁸' : ''","tickSize":{"condition":{"test":"round(log(datum.value)/LN10)%2==0","value":-7},"value":-4},"title":"αₛₛ<Σₚ₌₀(r)>ᵩ (g/cm²)"}},
    "color":{"field":"t","type":"nominal","scale":{"domain":["4","5","6","13","29"],"range":["#1a1aff","#00c000","#f00000","#ffb000","#000000"]},"legend":{"title":"time (Pₒᵣᵦ)"}},
    "strokeDash":{"field":"t","type":"nominal","scale":{"domain":["4","5","6","13","29"],"range":[[4,5],[2.5,2.2],[9,4],[11,4,2,4],[1,0]]},"legend":{"title":"time (Pₒᵣᵦ)"}}}}
 ],
 "resolve":{"axis":{"x":"independent","y":"independent"}}}
],
"config":{
 "view":{"stroke":"#000000","strokeWidth":1.6},
 "axis":{"domain":false,"grid":false,"ticks":true,"minExtent":0,"tickColor":"#000000","tickWidth":1.4,"labelFont":"Liberation Sans","labelFontSize":20,"labelColor":"#000000","labelOverlap":false,"labelFlush":false,"titleFont":"Liberation Sans","titleFontSize":20,"titleFontWeight":"normal","titleColor":"#000000"},
 "axisBottom":{"labelPadding":21,"titlePadding":6},
 "axisLeft":{"labelPadding":14.5,"titlePadding":10.5,"titleFontSize":20},
 "legend":{"orient":"none","legendX":16,"legendY":108,"symbolType":"M-5.3,0H5.3","symbolSize":100,"symbolStrokeWidth":3.2,"symbolFillColor":"transparent","symbolOffset":65,"labelAlign":"right","labelOffset":-50,"rowPadding":1.3,"titlePadding":8,"padding":0,"labelFont":"Liberation Sans","labelFontSize":20,"labelColor":"#000000","titleFont":"Liberation Sans","titleFontSize":20,"titleFontWeight":"normal","titleColor":"#000000","titleLimit":300,"labelLimit":100},
 "title":{"orient":"bottom","anchor":"start","frame":"group","dx":39,"offset":25,"font":"DejaVu Serif","fontSize":20,"fontWeight":"normal","color":"#000000"}
}
}
